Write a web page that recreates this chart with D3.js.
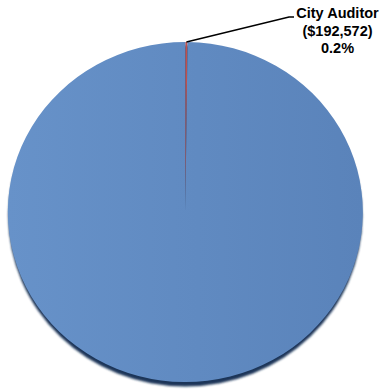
<!DOCTYPE html>
<html>
<head>
<meta charset="utf-8">
<script src="https://cdn.jsdelivr.net/npm/d3@7"></script>
<style>
  html, body { margin: 0; padding: 0; background: #fff; }
  svg { display: block; }
</style>
</head>
<body>
<script>
// Budget share by department
const categories = ["City Auditor", "All Other"];
const amounts = [192572, 96093428];
const colors = ["#c0504d", "#5e88bf"];
const labelLines = ["City Auditor", "($192,572)", "0.2%"];

const W = 383, H = 390;
const cx = 185.3, cy = 212, rx = 177.5, ry = 170;

const svg = d3.select("body").append("svg")
  .attr("width", W).attr("height", H);

const defs = svg.append("defs");
const grad = defs.append("linearGradient")
  .attr("id", "faceGrad").attr("x1", "0").attr("x2", "1").attr("y1", "0").attr("y2", "0");
grad.append("stop").attr("offset", "0").attr("stop-color", "#6792c9");
grad.append("stop").attr("offset", "1").attr("stop-color", "#5a83ba");

const blur = defs.append("filter").attr("id", "soft")
  .attr("x", "-10%").attr("y", "-10%").attr("width", "120%").attr("height", "120%");
blur.append("feGaussianBlur").attr("stdDeviation", 1.2);

// Dark rim below the pie face
svg.append("ellipse")
  .attr("cx", cx).attr("cy", cy + 4)
  .attr("rx", rx - 0.5).attr("ry", ry + 0.5)
  .attr("fill", "#1d3658")
  .attr("filter", "url(#soft)");

const pie = d3.pie().sort(null).value(d => d)(amounts);
const arc = d3.arc().innerRadius(0).outerRadius(ry);

const face = svg.append("g")
  .attr("transform", `translate(${cx},${cy}) scale(${rx / ry},1)`);

face.selectAll("path")
  .data(pie)
  .join("path")
  .attr("d", arc)
  .attr("fill", (d, i) => i === 0 ? colors[0] : "url(#faceGrad)");

// Leader line from the auditor slice to its label
const edge = d3.arc().innerRadius(ry).outerRadius(ry).centroid(pie[0]);
const sx = cx + edge[0] * rx / ry, sy = cy + edge[1];
svg.append("polyline")
  .attr("points", [[sx, sy], [289, 17], [294, 17]].map(p => p.join(",")).join(" "))
  .attr("fill", "none")
  .attr("stroke", "#000")
  .attr("stroke-width", 1.5);

const label = svg.append("text")
  .attr("font-family", "'Liberation Sans', Arial, sans-serif")
  .attr("font-weight", "bold")
  .attr("font-size", 14.5)
  .attr("text-anchor", "middle")
  .attr("fill", "#000");
label.selectAll("tspan")
  .data(labelLines)
  .join("tspan")
  .attr("x", 337.5)
  .attr("y", (d, i) => 18 + i * 17.5)
  .text(d => d);
</script>
</body>
</html>
